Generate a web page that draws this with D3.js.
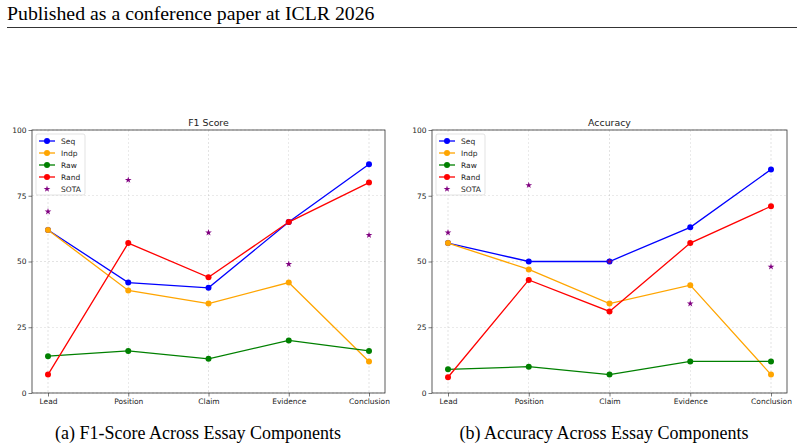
<!DOCTYPE html>
<html lang="en">
<head>
    <meta charset="UTF-8">
    <script src="https://d3js.org/d3.v7.min.js"></script>
    <style>
        html, body { margin: 0; background: #fff; overflow: hidden; }
        svg { display: block; }
    </style>
    <title>Essay Components</title>
</head>
<body>
<svg id="svg" width="804" height="448"></svg>
<script>
    // data
    const components = ['Lead', 'Position', 'Claim', 'Evidence', 'Conclusion'];
    const seriesNames = ['Seq', 'Indp', 'Raw', 'Rand'];
    const seriesColors = ['#0000ff', '#ffa500', '#008000', '#ff0000'];
    const sotaColor = '#800080';
    const yTicks = [0, 25, 50, 75, 100];

    const f1Seq = [62, 42, 40, 65, 87];
    const f1Indp = [62, 39, 34, 42, 12];
    const f1Raw = [14, 16, 13, 20, 16];
    const f1Rand = [7, 57, 44, 65, 80];
    const f1Sota = [69, 81, 61, 49, 60];

    const accSeq = [57, 50, 50, 63, 85];
    const accIndp = [57, 47, 34, 41, 7];
    const accRaw = [9, 10, 7, 12, 12];
    const accRand = [6, 43, 31, 57, 71];
    const accSota = [61, 79, 50, 34, 48];

    const svg = d3.select('#svg');

    // page header
    svg.append('text').attr('x', 7).attr('y', 20)
        .attr('font-family', 'Liberation Serif, serif').attr('font-size', 19.8)
        .text('Published as a conference paper at ICLR 2026');
    svg.append('line').attr('x1', 7).attr('x2', 797).attr('y1', 27.5).attr('y2', 27.5)
        .attr('stroke', '#000').attr('stroke-width', 0.8);

    const panels = [
        { title: 'F1 Score', caption: '(a) F1-Score Across Essay Components', capX: 198,
          left: 32, right: 385, series: [f1Seq, f1Indp, f1Raw, f1Rand], sota: f1Sota },
        { title: 'Accuracy', caption: '(b) Accuracy Across Essay Components', capX: 604,
          left: 432, right: 787, series: [accSeq, accIndp, accRaw, accRand], sota: accSota }
    ];
    const plotTop = 130, plotBottom = 393;
    const tickFont = 7.5;

    panels.forEach(p => {
        const g = svg.append('g');
        const pad = 16;
        const x = d3.scalePoint().domain(components).range([p.left + pad, p.right - pad]);
        const y = d3.scaleLinear().domain([0, 100]).range([plotBottom, plotTop]);

        // grid
        g.selectAll('.gy').data(yTicks).join('line')
            .attr('x1', p.left).attr('x2', p.right)
            .attr('y1', d => y(d)).attr('y2', d => y(d))
            .attr('stroke', '#b0b0b0').attr('stroke-width', 0.5).attr('stroke-dasharray', '2,2').attr('opacity', 0.7);
        g.selectAll('.gx').data(components).join('line')
            .attr('x1', d => x(d)).attr('x2', d => x(d))
            .attr('y1', plotTop).attr('y2', plotBottom)
            .attr('stroke', '#b0b0b0').attr('stroke-width', 0.5).attr('stroke-dasharray', '2,2').attr('opacity', 0.7);

        // axes
        const xAxis = d3.axisBottom(x).tickSize(3.5).tickPadding(2);
        const yAxis = d3.axisLeft(y).tickValues(yTicks).tickSize(3.5).tickPadding(2);
        const gx = g.append('g').attr('transform', `translate(0,${plotBottom})`).call(xAxis);
        const gy = g.append('g').attr('transform', `translate(${p.left},0)`).call(yAxis);
        [gx, gy].forEach(a => {
            a.select('.domain').remove();
            a.selectAll('text').attr('font-family', 'DejaVu Sans, sans-serif').attr('font-size', tickFont).attr('fill', '#222');
            a.selectAll('line').attr('stroke', '#222').attr('stroke-width', 0.6);
        });

        // frame
        g.append('rect').attr('x', p.left).attr('y', plotTop)
            .attr('width', p.right - p.left).attr('height', plotBottom - plotTop)
            .attr('fill', 'none').attr('stroke', '#333').attr('stroke-width', 0.8);

        // series
        const line = d3.line().x((d, i) => x(components[i])).y(d => y(d));
        p.series.forEach((vals, k) => {
            g.append('path').datum(vals).attr('d', line)
                .attr('fill', 'none').attr('stroke', seriesColors[k]).attr('stroke-width', 1.3);
            g.selectAll('.m' + k).data(vals).join('circle')
                .attr('class', 'm' + k)
                .attr('cx', (d, i) => x(components[i])).attr('cy', d => y(d))
                .attr('r', 3).attr('fill', seriesColors[k]);
        });
        const star = d3.symbol().type(d3.symbolStar).size(14);
        g.selectAll('.sota').data(p.sota).join('path')
            .attr('class', 'sota')
            .attr('d', star)
            .attr('transform', (d, i) => `translate(${x(components[i])},${y(d)})`)
            .attr('fill', sotaColor);

        // title + caption
        g.append('text').attr('x', (p.left + p.right) / 2).attr('y', 125.5)
            .attr('text-anchor', 'middle').attr('font-family', 'DejaVu Sans, sans-serif')
            .attr('font-size', 9.4).attr('fill', '#222').text(p.title);
        g.append('text').attr('x', p.capX).attr('y', 438.5)
            .attr('text-anchor', 'middle').attr('font-family', 'Liberation Serif, serif')
            .attr('font-size', 18).text(p.caption);

        // legend
        const lx = p.left + 4, ly = plotTop + 4;
        g.append('rect').attr('x', lx).attr('y', ly).attr('width', 49).attr('height', 61)
            .attr('rx', 2).attr('fill', '#fff').attr('fill-opacity', 0.8)
            .attr('stroke', '#d0d0d0').attr('stroke-width', 0.6);
        const items = seriesNames.concat(['SOTA']);
        items.forEach((name, k) => {
            const yy = ly + 7 + k * 12;
            if (k < 4) {
                g.append('line').attr('x1', lx + 3).attr('x2', lx + 19).attr('y1', yy).attr('y2', yy)
                    .attr('stroke', seriesColors[k]).attr('stroke-width', 1.3);
                g.append('circle').attr('cx', lx + 11).attr('cy', yy).attr('r', 3).attr('fill', seriesColors[k]);
            } else {
                g.append('path').attr('d', star).attr('transform', `translate(${lx + 11},${yy})`).attr('fill', sotaColor);
            }
            g.append('text').attr('x', lx + 25).attr('y', yy + 2.7)
                .attr('font-family', 'DejaVu Sans, sans-serif').attr('font-size', tickFont).attr('fill', '#222')
                .text(name);
        });
    });
</script>
</body>
</html>
